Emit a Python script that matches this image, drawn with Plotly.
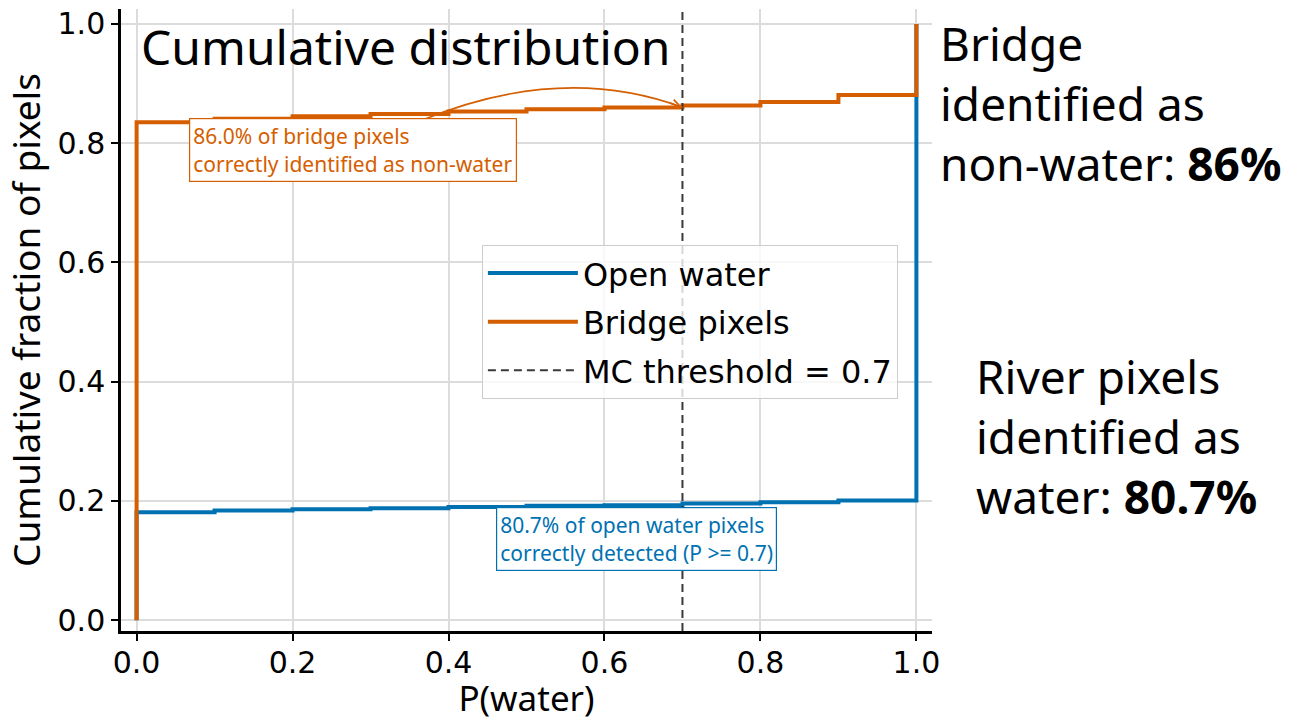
import plotly.graph_objects as go

# Bin edges of P(water) where each empirical CDF steps
p_edges = [0.0, 0.0, 0.1, 0.2, 0.3, 0.4, 0.5, 0.6, 0.7, 0.8, 0.9, 1.0, 1.0]

# Cumulative fraction of pixels at each edge
open_water_cdf = [0.0, 0.181, 0.184, 0.186, 0.188, 0.190, 0.192, 0.193, 0.196, 0.198, 0.201, 0.201, 1.0]
bridge_cdf = [0.0, 0.835, 0.841, 0.845, 0.849, 0.853, 0.857, 0.860, 0.863, 0.869, 0.881, 0.881, 1.0]

mc_threshold = 0.7
bridge_nonwater_pct = 86.0
water_detected_pct = 80.7

x_ticks = [0.0, 0.2, 0.4, 0.6, 0.8, 1.0]
y_ticks = [0.0, 0.2, 0.4, 0.6, 0.8, 1.0]

BLUE = "#0072B2"
ORANGE = "#D55E00"
X_RANGE = [-0.02, 1.02]
Y_RANGE = [-0.018, 1.025]

fig = go.Figure()

fig.add_trace(go.Scatter(
    x=p_edges, y=open_water_cdf, mode="lines", line_shape="hv",
    line=dict(color=BLUE, width=4), name="Open water", legendgroup="a",
))
fig.add_trace(go.Scatter(
    x=p_edges, y=bridge_cdf, mode="lines", line_shape="hv",
    line=dict(color=ORANGE, width=4), name="Bridge pixels", legendgroup="b",
))
fig.add_trace(go.Scatter(
    x=[mc_threshold, mc_threshold], y=Y_RANGE, mode="lines",
    line=dict(color="#3a3a3a", width=2, dash="8px,5px"),
    name=f"MC threshold = {mc_threshold}", legendgroup="c",
))

# Index of the step just below the threshold
i_thr = p_edges.index(mc_threshold) - 1
bridge_at_thr = bridge_cdf[i_thr]

# Curved arrow from the bridge text box to the bridge CDF at the threshold
x0, y0 = 0.365, 0.838
cx, cy = 0.545, 0.935
fig.add_shape(
    type="path", xref="x", yref="y", layer="above",
    path=f"M {x0},{y0} Q {cx},{cy} {mc_threshold},{bridge_at_thr}",
    line=dict(color=ORANGE, width=1.6),
)
fig.add_annotation(
    x=mc_threshold, y=bridge_at_thr, xref="x", yref="y", text="",
    showarrow=True, arrowhead=5, arrowsize=1.1, arrowwidth=1.6, arrowcolor=ORANGE,
    ax=-14, ay=-5,
)

fig.add_annotation(
    x=0.2775, y=0.789, xref="x", yref="y",
    text=f"{bridge_nonwater_pct:.1f}% of bridge pixels<br>correctly identified as non-water",
    showarrow=False, align="left",
    font=dict(family="Noto Sans", size=21, color=ORANGE),
    bgcolor="white", bordercolor=ORANGE, borderwidth=1.2, borderpad=3,
)
fig.add_annotation(
    x=0.641, y=0.136, xref="x", yref="y",
    text=f"{water_detected_pct}% of open water pixels<br>correctly detected (P >= {mc_threshold})",
    showarrow=False, align="left",
    font=dict(family="Noto Sans", size=21, color=BLUE),
    bgcolor="white", bordercolor=BLUE, borderwidth=1.2, borderpad=3,
)

# Panel title inside the axes
fig.add_annotation(
    x=0.022, y=0.940, xref="paper", yref="paper", xanchor="left", yanchor="middle",
    text="Cumulative distribution", showarrow=False,
    font=dict(family="Noto Sans", size=48, color="black"),
)

# Summary text to the right of the axes
fig.add_annotation(
    x=1.0074, y=0.8496, xref="paper", yref="paper", xanchor="left", yanchor="middle",
    text=f"Bridge<br>identified as<br>non-water: <b>{bridge_nonwater_pct:.0f}%</b>",
    showarrow=False, align="left",
    font=dict(family="Noto Sans", size=46, color="black"),
)
fig.add_annotation(
    x=1.052, y=0.3136, xref="paper", yref="paper", xanchor="left", yanchor="middle",
    text=f"River pixels<br>identified as<br>water: <b>{water_detected_pct}%</b>",
    showarrow=False, align="left",
    font=dict(family="Noto Sans", size=46, color="black"),
)

axis_common = dict(
    showgrid=True, gridcolor="#dcdcdc", gridwidth=1.5,
    showline=True, linecolor="black", linewidth=2.5, mirror=False,
    ticks="outside", ticklen=7, tickwidth=1.8, tickcolor="black",
    tickfont=dict(family="DejaVu Sans", size=30, color="black"),
    zeroline=False, tickformat=".1f",
)

fig.update_layout(
    width=1294, height=721,
    margin=dict(l=121, r=362, t=6, b=90),
    paper_bgcolor="white", plot_bgcolor="white",
    xaxis=dict(range=X_RANGE, tickvals=x_ticks, ticklabelstandoff=-4,
               title=dict(text="P(water)", font=dict(family="Noto Sans", size=35, color="black"), standoff=6),
               **axis_common),
    yaxis=dict(range=Y_RANGE, tickvals=y_ticks,
               title=dict(text="Cumulative fraction of pixels", font=dict(family="Noto Sans", size=37, color="black"), standoff=6),
               **axis_common),
    legend=dict(
        x=0.445, y=0.621, xanchor="left", yanchor="top",
        bgcolor="rgba(255,255,255,0.8)", bordercolor="#cccccc", borderwidth=1,
        font=dict(family="DejaVu Sans", size=32, color="black"),
        tracegroupgap=4, itemwidth=90,
    ),
    showlegend=True,
)

fig.write_html("out.html")
